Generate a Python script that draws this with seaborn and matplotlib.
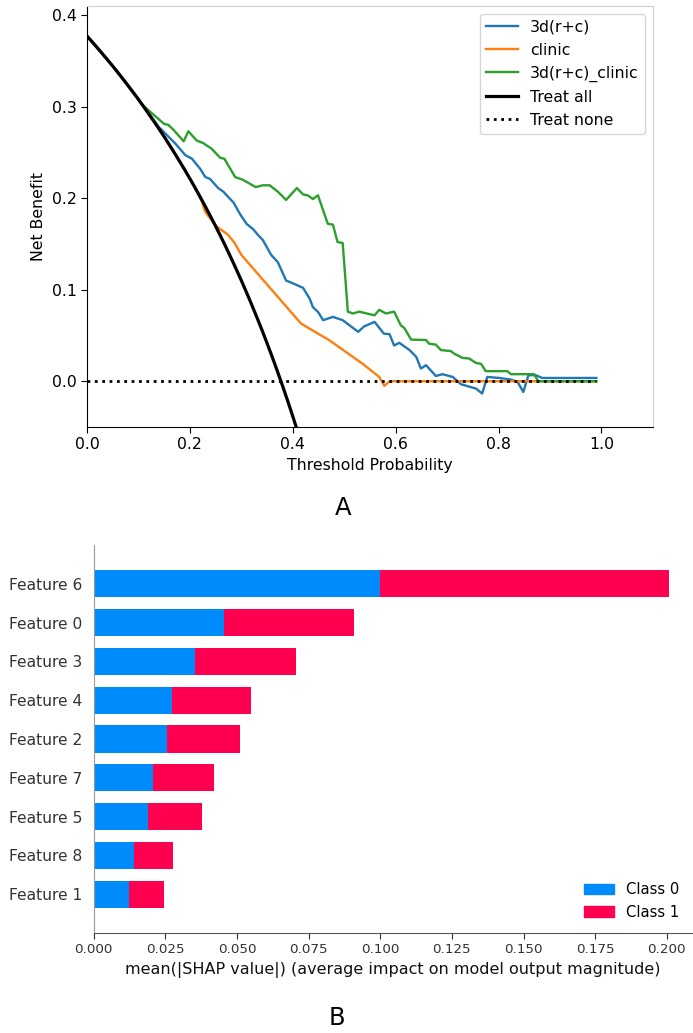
import numpy as np
import pandas as pd
import matplotlib
matplotlib.use("Agg")
import matplotlib.pyplot as plt
import seaborn as sns
from matplotlib.patches import Patch

# ---- A: decision curve ----
thr_all = np.round(np.arange(0, 0.43, 0.01), 2)
treat_all = [0.377, 0.3707, 0.3643, 0.3577, 0.3510, 0.3442, 0.3372, 0.3301, 0.3228, 0.3154,
             0.3078, 0.3000, 0.2920, 0.2839, 0.2756, 0.2671, 0.2583, 0.2494, 0.2402, 0.2309,
             0.2213, 0.2114, 0.2013, 0.1909, 0.1803, 0.1693, 0.1581, 0.1466, 0.1347, 0.1225,
             0.1100, 0.0971, 0.0838, 0.0701, 0.0561, 0.0415, 0.0266, 0.0111, -0.0048, -0.0213,
             -0.0383, -0.0559, -0.0741]

t_rc = [0.0, 0.05, 0.10, 0.126, 0.139, 0.155, 0.171, 0.191, 0.204, 0.220, 0.230, 0.239, 0.255,
        0.265, 0.285, 0.297, 0.310, 0.323, 0.332, 0.342, 0.358, 0.371, 0.387, 0.400, 0.420,
        0.433, 0.439, 0.449, 0.459, 0.478, 0.497, 0.527, 0.539, 0.559, 0.577, 0.588, 0.597,
        0.607, 0.627, 0.640, 0.649, 0.659, 0.678, 0.691, 0.711, 0.727, 0.756, 0.768, 0.778,
        0.801, 0.824, 0.837, 0.848, 0.858, 0.872, 0.885, 0.99]
nb_rc = [0.377, 0.3442, 0.3078, 0.288, 0.278, 0.269, 0.260, 0.247, 0.243, 0.232, 0.223, 0.221, 0.211,
         0.207, 0.195, 0.183, 0.172, 0.166, 0.160, 0.154, 0.138, 0.130, 0.110, 0.107, 0.102,
         0.090, 0.081, 0.0757, 0.0667, 0.0703, 0.0667, 0.054, 0.060, 0.0648, 0.052, 0.0514, 0.039,
         0.042, 0.034, 0.0266, 0.0139, 0.0175, 0.0058, 0.0077, 0.0047, -0.0033, -0.008, -0.0134, 0.0047,
         0.0036, 0.0018, -0.0008, -0.0117, 0.0066, 0.0066, 0.0036, 0.0036]

t_clin = [0.0, 0.05, 0.10, 0.15, 0.20, 0.21, 0.223, 0.229, 0.235, 0.252, 0.274, 0.287, 0.300,
          0.416, 0.446, 0.471, 0.536, 0.568, 0.578, 0.588, 0.99]
nb_clin = [0.377, 0.3442, 0.3078, 0.2671, 0.2213, 0.2115, 0.197, 0.186, 0.181, 0.169, 0.160, 0.151,
           0.138, 0.063, 0.053, 0.0448, 0.019, 0.0047, -0.005, 0.0, 0.0]

t_comb = [0.0, 0.05, 0.10, 0.107, 0.150, 0.158, 0.169, 0.188, 0.197, 0.213, 0.226, 0.242, 0.259,
          0.267, 0.288, 0.303, 0.328, 0.342, 0.355, 0.371, 0.387, 0.408, 0.420, 0.429, 0.439,
          0.449, 0.468, 0.478, 0.487, 0.497, 0.507, 0.517, 0.529, 0.559, 0.568, 0.581, 0.597,
          0.610, 0.617, 0.630, 0.659, 0.665, 0.678, 0.688, 0.707, 0.714, 0.730, 0.743, 0.756,
          0.766, 0.775, 0.817, 0.824, 0.869, 0.877, 0.99]
nb_comb = [0.377, 0.3442, 0.3078, 0.302, 0.281, 0.280, 0.274, 0.262, 0.273, 0.263, 0.260, 0.254, 0.244,
           0.243, 0.223, 0.220, 0.212, 0.214, 0.214, 0.207, 0.198, 0.211, 0.204, 0.203, 0.199,
           0.203, 0.172, 0.171, 0.152, 0.151, 0.076, 0.074, 0.076, 0.072, 0.078, 0.074, 0.076,
           0.061, 0.058, 0.0455, 0.045, 0.041, 0.040, 0.034, 0.033, 0.030, 0.0255, 0.0248, 0.020,
           0.019, 0.011, 0.011, 0.0077, 0.0077, 0.0, 0.0]

t_none = [0.0, 0.99]
nb_none = [0.0, 0.0]

# ---- B: shap bar ----
features = ["Feature 6", "Feature 0", "Feature 3", "Feature 4", "Feature 2",
            "Feature 7", "Feature 5", "Feature 8", "Feature 1"]
class0 = [0.0999, 0.0453, 0.0352, 0.0273, 0.0255, 0.0207, 0.0189, 0.0139, 0.0123]
class1 = [0.1007, 0.0456, 0.0353, 0.0275, 0.0256, 0.0213, 0.0189, 0.0138, 0.0123]

fig = plt.figure(figsize=(6.93, 10.33), dpi=100)

fs = 11.3
ax1 = fig.add_axes([0.1255, 0.5866, 0.8167, 0.4078])
sns.lineplot(x=t_rc, y=nb_rc, ax=ax1, color="tab:blue", lw=1.7, sort=False, estimator=None, label="3d(r+c)")
sns.lineplot(x=t_clin, y=nb_clin, ax=ax1, color="tab:orange", lw=1.7, sort=False, estimator=None, label="clinic")
sns.lineplot(x=t_comb, y=nb_comb, ax=ax1, color="tab:green", lw=1.7, sort=False, estimator=None, label="3d(r+c)_clinic")
sns.lineplot(x=thr_all, y=treat_all, ax=ax1, color="black", lw=2.3, sort=False, estimator=None, label="Treat all")
sns.lineplot(x=t_none, y=nb_none, ax=ax1, color="black", lw=2.0, ls=":", sort=False, estimator=None, label="Treat none")
ax1.set_xlim(0, 1.1)
ax1.set_ylim(-0.05, 0.41)
ax1.set_xticks([0.0, 0.2, 0.4, 0.6, 0.8, 1.0])
ax1.set_yticks([0.0, 0.1, 0.2, 0.3, 0.4])
ax1.tick_params(labelsize=fs, length=4)
ax1.set_xlabel("Threshold Probability", fontsize=fs)
ax1.set_ylabel("Net Benefit", fontsize=fs)
for s in ["top", "right"]:
    ax1.spines[s].set_color("#d0d0d0")
ax1.legend(loc="upper right", fontsize=fs)

ax2 = fig.add_axes([0.1352, 0.0968, 0.8634, 0.3756])
total = [a + b for a, b in zip(class0, class1)]
sns.barplot(x=total, y=features, ax=ax2, color="#ff0051", orient="h", width=0.7,
            saturation=1, linewidth=0)
sns.barplot(x=class0, y=features, ax=ax2, color="#008bfb", orient="h", width=0.7,
            saturation=1, linewidth=0)
ax2.set_xlim(0, 0.2088)
ax2.set_ylim(9, -1)
ax2.set_xticks([0.0, 0.025, 0.05, 0.075, 0.1, 0.125, 0.15, 0.175, 0.2])
ax2.set_xticklabels([f"{v:.3f}" for v in ax2.get_xticks()])
ax2.tick_params(axis="x", labelsize=9.7, colors="#333333", length=4)
ax2.tick_params(axis="y", labelsize=11.2, length=0, pad=8)
for lab in ax2.get_yticklabels():
    lab.set_color("#333333")
ax2.set_ylabel("")
ax2.set_xlabel("mean(|SHAP value|) (average impact on model output magnitude)", fontsize=11.5, color="#111111")
ax2.spines["top"].set_visible(False)
ax2.spines["right"].set_visible(False)
ax2.spines["left"].set_color("#999999")
ax2.spines["bottom"].set_color("#555555")
handles = [Patch(color="#008bfb", label="Class 0"), Patch(color="#ff0051", label="Class 1")]
ax2.legend(handles=handles, loc="lower right", frameon=False, fontsize=10.6)

fig.text(343 / 693, 1 - 508 / 1033, "A", ha="center", va="center", fontsize=17.5)
fig.text(337 / 693, 1 - 1018 / 1033, "B", ha="center", va="center", fontsize=17.5)

fig.savefig("out.png", dpi=100)
